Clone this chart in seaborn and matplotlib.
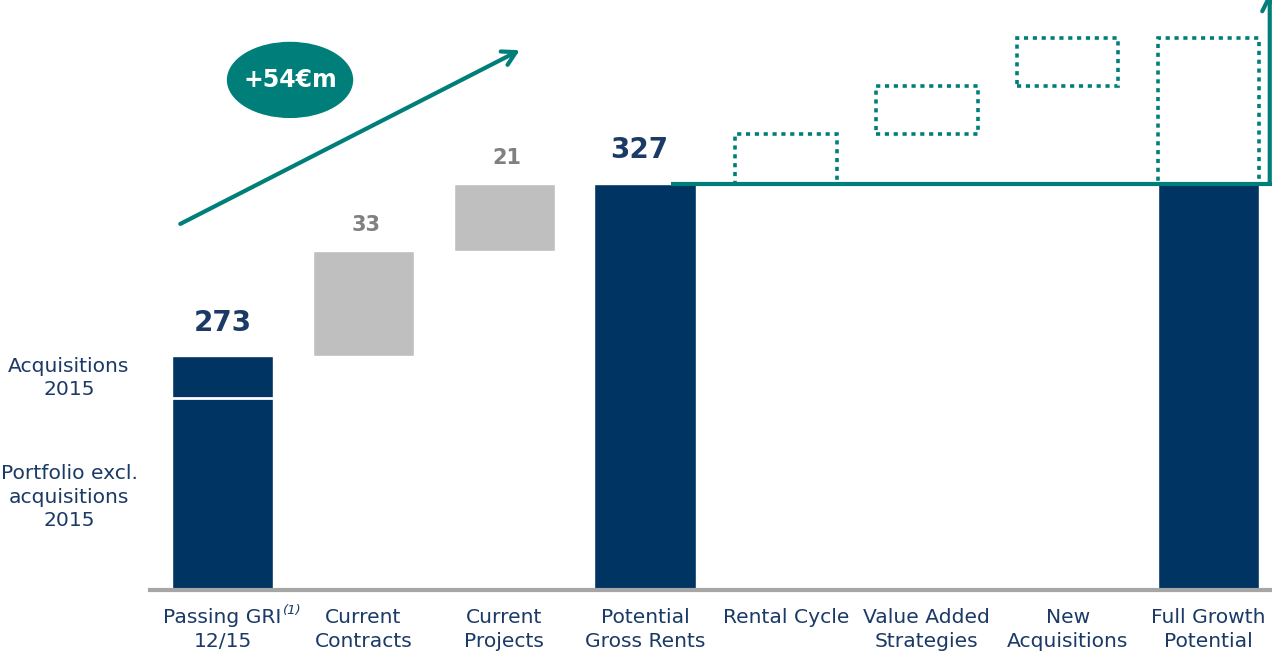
import numpy as np
import pandas as pd
import matplotlib
matplotlib.use("Agg")
import matplotlib.pyplot as plt
from matplotlib.patches import Ellipse
import seaborn as sns

# ---- data (€m) ----
categories = ["Passing GRI\n12/15", "Current\nContracts", "Current\nProjects",
              "Potential\nGross Rents", "Rental Cycle", "Value Added\nStrategies",
              "New\nAcquisitions", "Full Growth\nPotential"]
totals = [273, np.nan, np.nan, 327, np.nan, np.nan, np.nan, 327]
portfolio_excl = 260          # portfolio excl. acquisitions 2015
acquisitions_2015 = 13
increments = [np.nan, 33, 21, np.nan, np.nan, np.nan, np.nan, np.nan]
potential_steps = [np.nan, np.nan, np.nan, np.nan, 15.5, 15, 15, np.nan]
growth_label = "+54€m"

NAVY = "#003462"
TEAL = "#007F7A"
GREY_BAR = "#BFBFBF"
GREY_TXT = "#808080"
LABEL = "#1B3A66"

sns.set_theme(style="white")
plt.rcParams["font.family"] = ["DejaVu Sans"]

fig = plt.figure(figsize=(12.72, 6.55), dpi=100)
ax = fig.add_axes([150 / 1272, 65 / 655, 1 - 150 / 1272, 1 - 65 / 655])

df = pd.DataFrame({"cat": categories, "total": totals})
W = 0.72
sns.barplot(data=df, x="cat", y="total", order=categories, color=NAVY,
            saturation=1, width=W, ax=ax, errorbar=None)

x = np.arange(len(categories))
ymin = 200
ax.set_xlim(-0.515, 7.45)
ax.set_ylim(ymin, ymin + 590 / 3.2)

# split of the first bar: acquisitions on top of the existing portfolio
ax.hlines(portfolio_excl, x[0] - W / 2, x[0] + W / 2, color="white", lw=2, zorder=3)

# floating increments from passing rents to potential rents
base = totals[0]
for i, inc in enumerate(increments):
    if np.isnan(inc):
        continue
    ax.bar(x[i], inc, bottom=base, width=W, color=GREY_BAR, zorder=2)
    ax.text(x[i] + 0.02, base + inc + 5, f"{inc:.0f}", ha="center", va="bottom",
            fontsize=15, fontweight="bold", color=GREY_TXT)
    base += inc

# value labels on totals
for i in (0, 3):
    ax.text(x[i] - (0.04 if i == 3 else 0), totals[i] + 6, f"{totals[i]:.0f}",
            ha="center", va="bottom", fontsize=20, fontweight="bold", color=LABEL)

# open-ended potential steps (dotted boxes)
dots = (0, (1.15, 1.3))
level = totals[3]
for i, step in enumerate(potential_steps):
    if np.isnan(step):
        continue
    ax.bar(x[i], step, bottom=level, width=W, fill=False, edgecolor=TEAL,
           linestyle=dots, lw=2.6, zorder=3)
    level += step
ax.bar(x[7], level - totals[7], bottom=totals[7], width=W, fill=False,
       edgecolor=TEAL, linestyle=dots, lw=2.6, zorder=3)

# reference line at potential gross rents and upward arrow
ax.hlines(totals[3], x[3] + 0.18, 7.45, color=TEAL, lw=3, zorder=4)
ax.annotate("", xy=(7.434, 387), xytext=(7.434, totals[7]),
            arrowprops=dict(arrowstyle="->,head_length=0.9,head_width=0.45",
                            color=TEAL, lw=3, shrinkA=0, shrinkB=0),
            annotation_clip=False, zorder=4)

# growth arrow and bubble
ax.annotate("", xy=(2.11, 368.7), xytext=(-0.30, 314.4),
            arrowprops=dict(arrowstyle="->,head_length=0.8,head_width=0.45",
                            color=TEAL, lw=3, shrinkA=0, shrinkB=0), zorder=4)
ax.add_patch(Ellipse((0.479, 359.4), 0.887, 23.4, color=TEAL, zorder=4))
ax.text(0.479, 359.4, growth_label, ha="center", va="center", color="white",
        fontsize=17, fontweight="bold", zorder=5)

# axes styling
for s in ("left", "right", "top"):
    ax.spines[s].set_visible(False)
ax.spines["bottom"].set_color("#A6A6A6")
ax.spines["bottom"].set_linewidth(3)
ax.set_yticks([])
ax.set_xlabel("")
ax.set_ylabel("")
ax.tick_params(axis="x", length=0, pad=13)
ax.set_xticks(x)
ax.set_xticklabels(categories, fontsize=14.6, color=LABEL, va="top",
                   linespacing=1.35)
ax.text(x[0] + 0.43, ymin - 4.3, "(1)", fontsize=9.5, style="italic",
        color=LABEL, ha="left", va="top")

# legend-style labels for the first bar
ax.text(-1.09, 266.3, "Acquisitions\n2015",
        ha="center", va="center", fontsize=14.6, color=LABEL, linespacing=1.3)
ax.text(-1.09, 229.0, "Portfolio excl.\nacquisitions\n2015", ha="center",
        va="center", fontsize=14.6, color=LABEL, linespacing=1.3)

fig.savefig("out.png", dpi=100)
